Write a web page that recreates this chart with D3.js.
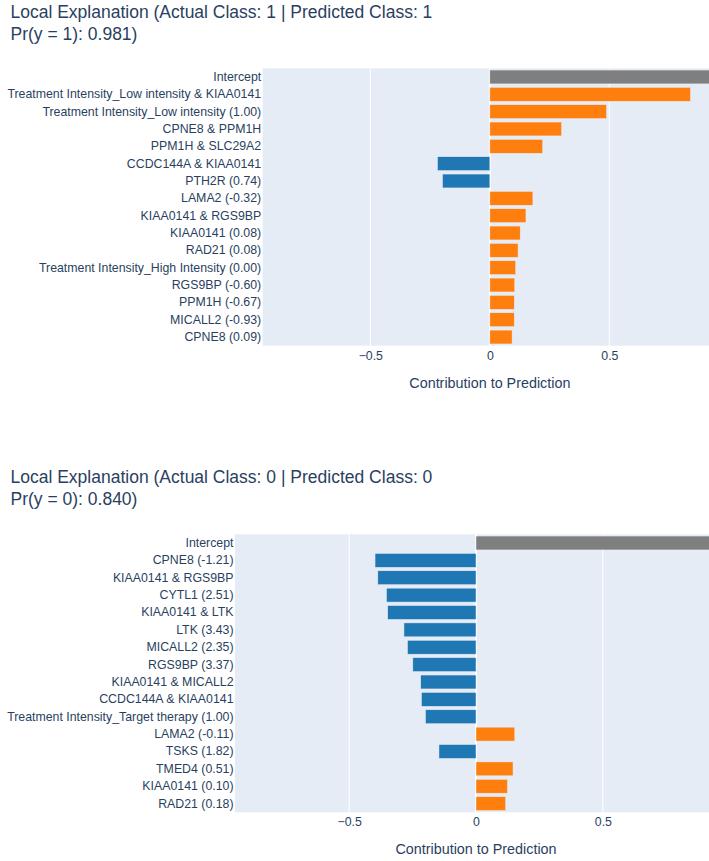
<!DOCTYPE html>
<html>
<head>
<meta charset="utf-8">
<script src="https://cdn.jsdelivr.net/npm/d3@7"></script>
<style>
  html, body { margin: 0; padding: 0; background: #fff; }
  svg { display: block; }
</style>
</head>
<body>
<div id="chart"></div>
<script>
// ---- Data ----
const titles1 = ["Local Explanation (Actual Class: 1 | Predicted Class: 1", "Pr(y = 1): 0.981)"];
const features1 = [
  "Intercept",
  "Treatment Intensity_Low intensity & KIAA0141",
  "Treatment Intensity_Low intensity (1.00)",
  "CPNE8 & PPM1H",
  "PPM1H & SLC29A2",
  "CCDC144A & KIAA0141",
  "PTH2R (0.74)",
  "LAMA2 (-0.32)",
  "KIAA0141 & RGS9BP",
  "KIAA0141 (0.08)",
  "RAD21 (0.08)",
  "Treatment Intensity_High Intensity (0.00)",
  "RGS9BP (-0.60)",
  "PPM1H (-0.67)",
  "MICALL2 (-0.93)",
  "CPNE8 (0.09)"
];
const contributions1 = [0.95, 0.839, 0.488, 0.300, 0.221, -0.219, -0.198, 0.180, 0.151, 0.127, 0.118, 0.108, 0.104, 0.102, 0.102, 0.093];

const titles2 = ["Local Explanation (Actual Class: 0 | Predicted Class: 0", "Pr(y = 0): 0.840)"];
const features2 = [
  "Intercept",
  "CPNE8 (-1.21)",
  "KIAA0141 & RGS9BP",
  "CYTL1 (2.51)",
  "KIAA0141 & LTK",
  "LTK (3.43)",
  "MICALL2 (2.35)",
  "RGS9BP (3.37)",
  "KIAA0141 & MICALL2",
  "CCDC144A & KIAA0141",
  "Treatment Intensity_Target therapy (1.00)",
  "LAMA2 (-0.11)",
  "TSKS (1.82)",
  "TMED4 (0.51)",
  "KIAA0141 (0.10)",
  "RAD21 (0.18)"
];
const contributions2 = [0.95, -0.398, -0.387, -0.353, -0.348, -0.284, -0.270, -0.249, -0.218, -0.215, -0.199, 0.153, -0.146, 0.146, 0.124, 0.117];

const xDomain = [-0.95, 0.95];
const xTicks = [-0.5, 0, 0.5];
const xTitle = "Contribution to Prediction";

// ---- Style ----
const W = 709, H = 861;
const FONT = "'Liberation Sans', Arial, sans-serif";
const TEXT = "#2a3f5f";
const BG = "#E5ECF6";
const POS = "#ff7f0e", NEG = "#1f77b4", INTERCEPT = "#7f7f7f";

const svg = d3.select("#chart").append("svg")
  .attr("width", W).attr("height", H)
  .style("font-family", FONT);

function panel(cfg) {
  const g = svg.append("g");
  const {left, right, top, bottom, titleY, features, values, titles} = cfg;

  // titles
  titles.forEach((t, i) => {
    g.append("text")
      .attr("x", 10.5).attr("y", titleY + i * 22.3)
      .attr("fill", TEXT).style("font-size", "17.5px")
      .text(t);
  });

  const x = d3.scaleLinear().domain(xDomain).range([left, right]);
  const y = d3.scaleBand().domain(features).range([top, bottom])
    .paddingInner(0.2).paddingOuter(0.1);

  g.append("rect").attr("x", left).attr("y", top)
    .attr("width", right - left).attr("height", bottom - top)
    .attr("fill", BG);

  // grid
  g.selectAll(".grid").data(xTicks.filter(d => d !== 0)).join("line")
    .attr("x1", d => x(d)).attr("x2", d => x(d))
    .attr("y1", top).attr("y2", bottom)
    .attr("stroke", "#fff").attr("stroke-width", 1);
  g.append("line")
    .attr("x1", x(0)).attr("x2", x(0)).attr("y1", top).attr("y2", bottom)
    .attr("stroke", "#fff").attr("stroke-width", 2);

  // bars
  g.selectAll(".bar").data(features).join("rect")
    .attr("x", (d, i) => Math.min(x(0), x(values[i])))
    .attr("width", (d, i) => Math.abs(x(values[i]) - x(0)))
    .attr("y", d => y(d))
    .attr("height", y.bandwidth())
    .attr("fill", (d, i) => d === "Intercept" ? INTERCEPT : (values[i] >= 0 ? POS : NEG))
    .attr("stroke", BG).attr("stroke-width", 0.5);

  // y axis labels
  const yAxis = d3.axisLeft(y).tickSize(0).tickPadding(1.5);
  const ya = g.append("g").attr("transform", `translate(${left},0)`).call(yAxis);
  ya.select(".domain").remove();
  ya.selectAll("text").attr("fill", TEXT).style("font-size", "12.33px")
    .style("font-family", FONT);

  // x axis
  const fmt = d => d === 0 ? "0" : (d < 0 ? "\u2212" + Math.abs(d) : String(d));
  const xAxis = d3.axisBottom(x).tickValues(xTicks).tickSize(0).tickPadding(14).tickFormat(fmt);
  const xa = g.append("g").attr("transform", `translate(0,${bottom})`).call(xAxis);
  xa.select(".domain").remove();
  xa.selectAll("text").attr("fill", TEXT).style("font-size", "12.33px")
    .style("font-family", FONT).attr("dy", "0");

  g.append("text")
    .attr("x", (left + right) / 2).attr("y", bottom + 42)
    .attr("text-anchor", "middle").attr("fill", TEXT)
    .style("font-size", "14.35px").text(xTitle);
}

panel({left: 262.7, right: 717, top: 68.3, bottom: 345.7, titleY: 17.5,
       features: features1, values: contributions1, titles: titles1});
panel({left: 235, right: 717, top: 534.3, bottom: 812.3, titleY: 482.7,
       features: features2, values: contributions2, titles: titles2});
</script>
</body>
</html>
